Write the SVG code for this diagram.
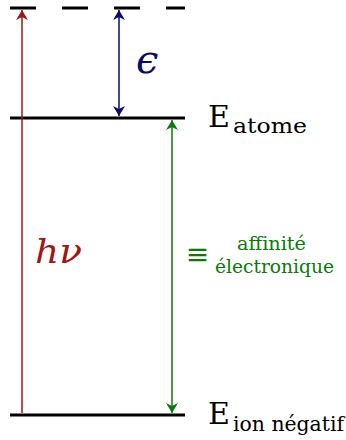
<svg xmlns="http://www.w3.org/2000/svg" width="346" height="440" viewBox="0 0 346 440">
<style>
.lvl{stroke:#000;stroke-width:3;fill:none}
.s{font-family:'DejaVu Serif',serif}
</style>
<defs>
<marker id="ar" viewBox="0 0 10 12" refX="10" refY="6" markerWidth="10" markerHeight="12" markerUnits="userSpaceOnUse" orient="auto-start-reverse"><path d="M0,0 L10,6 L0,12 L3,6 Z" fill="#a01515"/></marker>
<marker id="ab" viewBox="0 0 10 12" refX="10" refY="6" markerWidth="10" markerHeight="12" markerUnits="userSpaceOnUse" orient="auto-start-reverse"><path d="M0,0 L10,6 L0,12 L3,6 Z" fill="#0a0a6a"/></marker>
<marker id="ag" viewBox="0 0 10 12" refX="10" refY="6" markerWidth="10" markerHeight="12" markerUnits="userSpaceOnUse" orient="auto-start-reverse"><path d="M0,0 L10,6 L0,12 L3,6 Z" fill="#0a7a0a"/></marker>
</defs>
<g id="levels">
<g id="level-top"><line class="lvl" x1="10" y1="8" x2="185" y2="8" stroke-dasharray="26 26"/></g>
<g id="level-atome"><line class="lvl" x1="10" y1="118" x2="185" y2="118"/>
<text class="s" x="208" y="127" font-size="30" textLength="22" lengthAdjust="spacingAndGlyphs">E</text>
<text class="s" x="233" y="133" font-size="21" textLength="74" lengthAdjust="spacingAndGlyphs">atome</text></g>
<g id="level-ion"><line class="lvl" x1="10" y1="415" x2="185" y2="415"/>
<text class="s" x="208" y="424" font-size="30" textLength="22" lengthAdjust="spacingAndGlyphs">E</text>
<text class="s" x="233" y="431" font-size="21" textLength="111" lengthAdjust="spacingAndGlyphs">ion négatif</text></g>
</g>
<g id="connectors">
<line x1="22" y1="413" x2="22" y2="10" stroke="#a01515" stroke-width="1.5" marker-end="url(#ar)"/>
<line x1="119" y1="10" x2="119" y2="116" stroke="#0a0a6a" stroke-width="1.5" marker-start="url(#ab)" marker-end="url(#ab)"/>
<line x1="172" y1="120" x2="172" y2="413" stroke="#0a7a0a" stroke-width="1.5" marker-start="url(#ag)" marker-end="url(#ag)"/>
</g>
<g id="label-eps"><text class="s" x="136" y="73" font-size="40" font-style="italic" fill="#0a0a6a">ϵ</text></g>
<g id="label-hnu"><text class="s" x="35" y="263" font-size="34" font-style="italic" fill="#a01515" textLength="47" lengthAdjust="spacingAndGlyphs">hν</text></g>
<g id="label-affinite" fill="#0a7a0a">
<text x="187" y="265" font-size="30" font-weight="200" font-family="Inter, 'Noto Sans', sans-serif" textLength="21" lengthAdjust="spacingAndGlyphs">≡</text>
<text class="s" x="237" y="250" font-size="18" textLength="69" lengthAdjust="spacingAndGlyphs">affinité</text>
<text class="s" x="215" y="273" font-size="18" textLength="119" lengthAdjust="spacingAndGlyphs">électronique</text>
</g>
</svg>
